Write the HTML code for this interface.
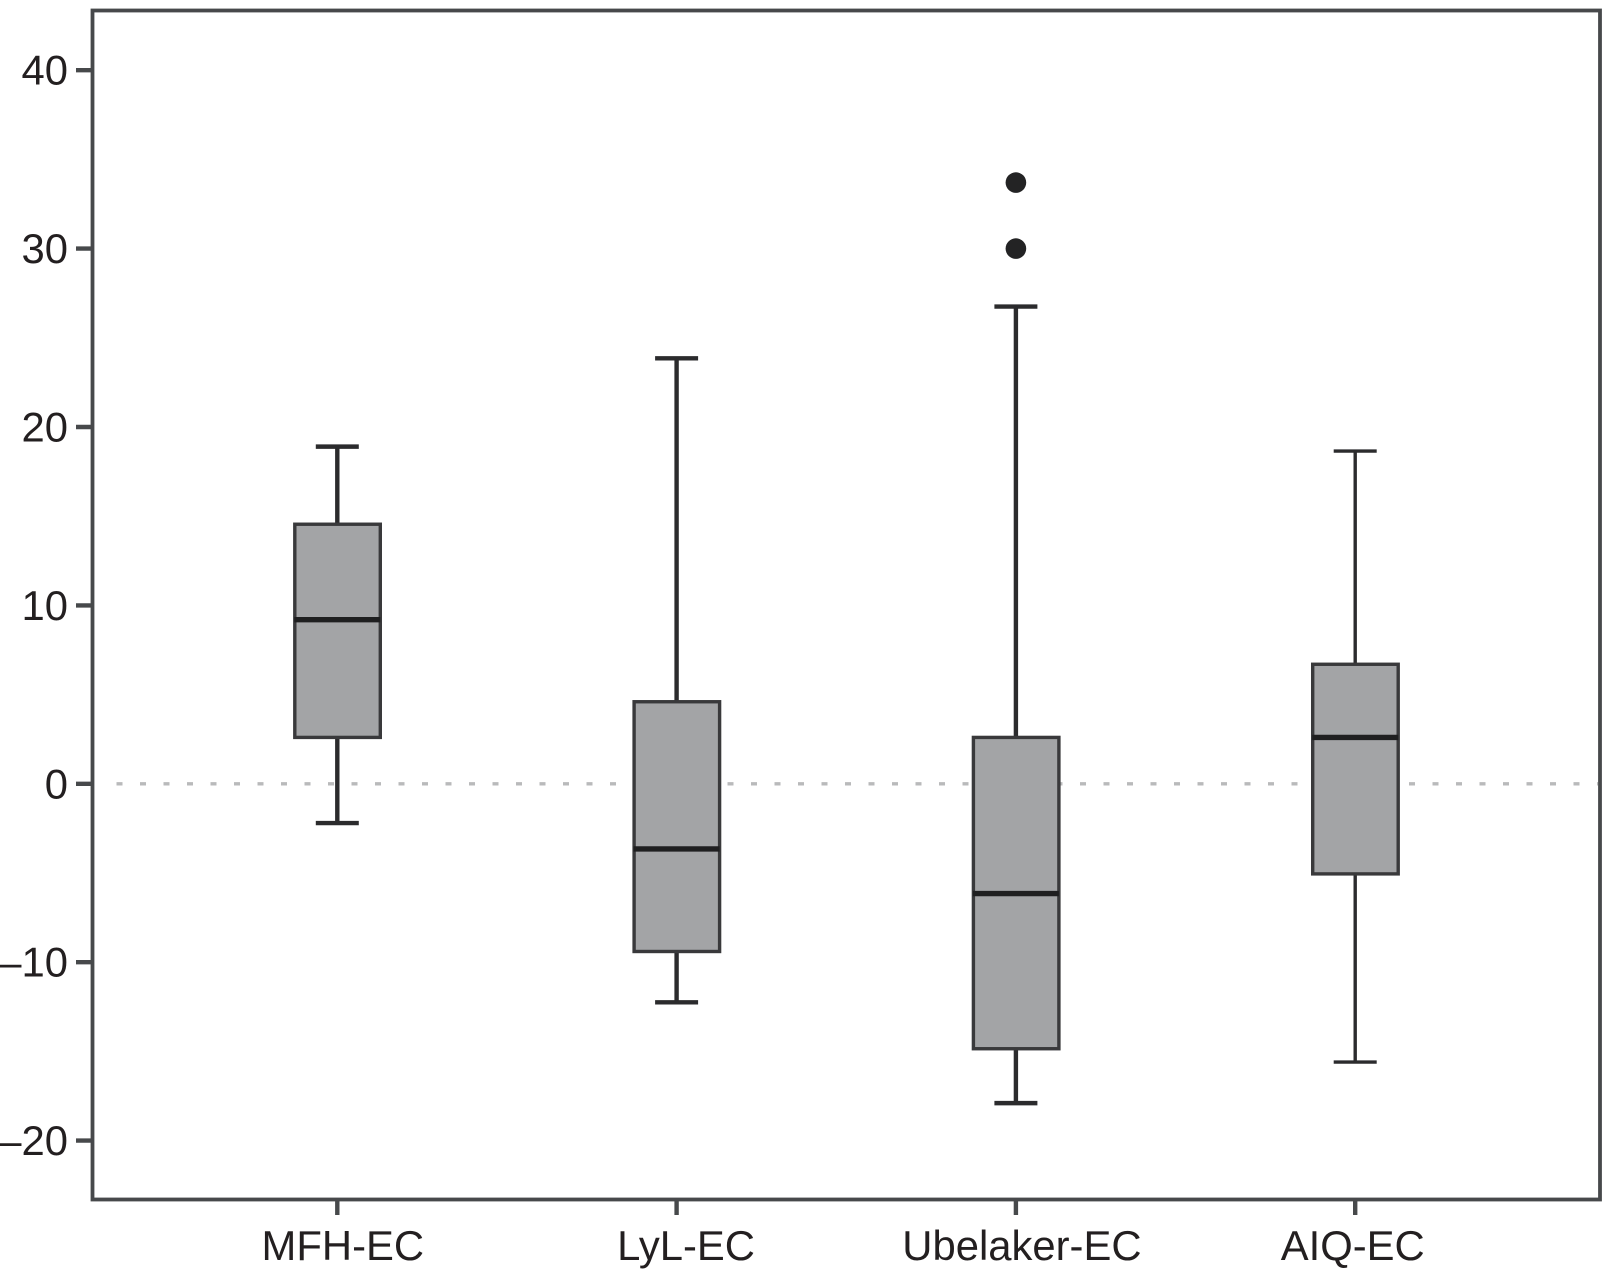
<!DOCTYPE html>
<html lang="en">
<head>
<meta charset="utf-8">
<title>Box plot of differences by method</title>
<style>
  html, body { margin: 0; padding: 0; background: #fff; width: 1604px; height: 1269px; overflow: hidden; }
  svg { display: block; }
  text { font-family: "Liberation Sans", sans-serif; font-size: 41.8px; fill: #231f20; }
</style>
</head>
<body>
<svg id="chart" xmlns="http://www.w3.org/2000/svg" width="1604" height="1269" viewBox="0 0 1604 1269"></svg>
<script>
const categories = ['MFH-EC', 'LyL-EC', 'Ubelaker-EC', 'AIQ-EC'];
const whiskerHigh = [18.9, 23.85, 26.75, 18.65];
const quartile3 = [14.55, 4.6, 2.6, 6.7];
const medians = [9.2, -3.65, -6.15, 2.6];
const quartile1 = [2.6, -9.4, -14.85, -5.05];
const whiskerLow = [-2.2, -12.25, -17.9, -15.6];
const outliers = [[], [], [33.7, 30], []];
const yTicks = [40, 30, 20, 10, 0, -10, -20];
const yTickLabels = ['40', '30', '20', '10', '0', '\u201310', '\u201320'];

const svg = document.getElementById('chart');
const NS = 'http://www.w3.org/2000/svg';

// Axis functions
function yScale(v) { return 783.8 - v * 17.84; }
function xScale(i) { return 337.3 + i * 339.3; }

const frame = { left: 92.5, right: 1600, top: 10.5, bottom: 1199.5 };
const labelNudge = [5.5, 9.5, 6, -2.5];
const boxHalf = 43;
const capHalf = 21.5;
const whiskerWidth = [4.4, 4.4, 4.4, 3.4];

function shape(tag, attrs, parent) {
  const el = document.createElementNS(NS, tag);
  for (const k in attrs) el.setAttribute(k, attrs[k]);
  (parent || svg).appendChild(el);
  return el;
}

let el;

// Zero reference line
el = shape('line', { x1: 116.5, x2: 1598, y1: yScale(0), y2: yScale(0), stroke: '#b9babb', 'stroke-width': 3.4, 'stroke-dasharray': '6 17.5' });



// Plot frame
el = shape('rect', { x: frame.left, y: frame.top, width: frame.right - frame.left, height: frame.bottom - frame.top, fill: 'none', stroke: '#47494b', 'stroke-width': 3.8 });



// Y axis ticks and labels
yTicks.forEach(function (v, i) {
  const y = yScale(v);
  let t = shape('line', { x1: 76, x2: frame.left, y1: y, y2: y, stroke: '#47494b', 'stroke-width': 4.4 });
  
  
  let l = shape('text', { x: 68, y: y + 14.5, 'text-anchor': 'end' });
  l.textContent = yTickLabels[i];
  
  
});

// Categories
categories.forEach(function (name, i) {
  const x = xScale(i);

  let t = shape('line', { x1: x, x2: x, y1: frame.bottom, y2: 1215, stroke: '#47494b', 'stroke-width': 4.4 });
  
  

  let l = shape('text', { x: x + labelNudge[i], y: 1260, 'text-anchor': 'middle' });
  l.textContent = name;
  
  

  const g = shape('g', {});
  
  

  const sw = whiskerWidth[i];

  let w = shape('line', { x1: x, x2: x, y1: yScale(whiskerHigh[i]), y2: yScale(whiskerLow[i]), stroke: '#2b2b2d', 'stroke-width': sw }, g);
  
  

  let capHi = shape('line', { x1: x - capHalf, x2: x + capHalf, y1: yScale(whiskerHigh[i]), y2: yScale(whiskerHigh[i]), stroke: '#2b2b2d', 'stroke-width': sw }, g);
  
  

  let capLo = shape('line', { x1: x - capHalf, x2: x + capHalf, y1: yScale(whiskerLow[i]), y2: yScale(whiskerLow[i]), stroke: '#2b2b2d', 'stroke-width': sw }, g);
  
  

  let b = shape('rect', { x: x - boxHalf + 0.5, y: yScale(quartile3[i]), width: boxHalf * 2 - 0.5, height: yScale(quartile1[i]) - yScale(quartile3[i]), fill: '#a3a4a6', stroke: '#39393b', 'stroke-width': 3.4 }, g);
  
  

  let m = shape('line', { x1: x - boxHalf, x2: x + boxHalf, y1: yScale(medians[i]), y2: yScale(medians[i]), stroke: '#1f1f20', 'stroke-width': 5.4 }, g);
  
  

  outliers[i].forEach(function (v) {
    let o = shape('circle', { cx: x, cy: yScale(v), r: 10.3, fill: '#232324' }, g);
    
    
  });
});
</script>
</body>
</html>
